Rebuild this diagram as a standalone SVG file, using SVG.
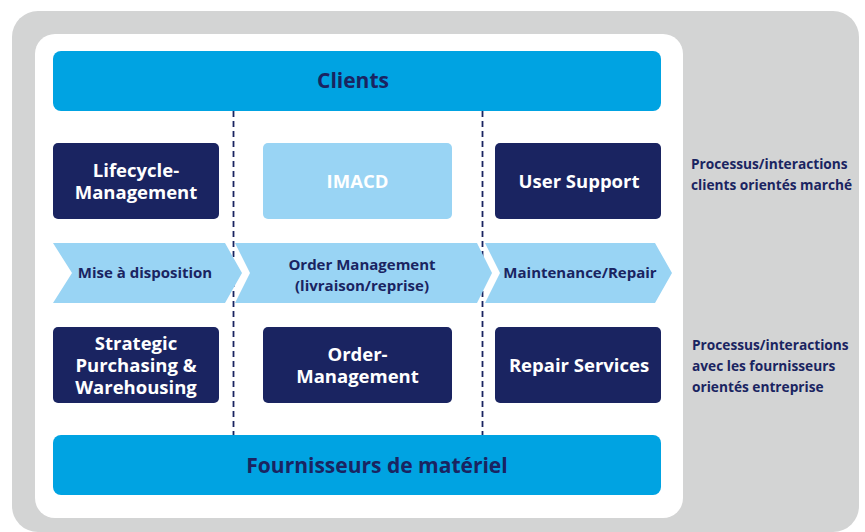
<svg xmlns="http://www.w3.org/2000/svg" width="865" height="532" viewBox="0 0 865 532">
<style>
.t{font-family:"Open Sans","Liberation Sans",sans-serif;font-weight:bold;text-anchor:middle}
.dark{fill:#1a2461}
.bar{fill:#00a3e2}
.light{fill:#99d4f4}
.wt{fill:#ffffff}
.nt{fill:#1a2461}
.dash{stroke:#1a2461;stroke-width:1.8;stroke-dasharray:6,4;fill:none}
</style>
<rect x="12" y="11" width="847" height="521" rx="26" fill="#d3d4d4"/>
<rect x="35" y="34" width="648" height="484" rx="20" fill="#ffffff"/>
<g id="connectors">
<line class="dash" x1="233.5" y1="111" x2="233.5" y2="435"/>
<line class="dash" x1="482.5" y1="111" x2="482.5" y2="435"/>
</g>
<g id="clients"><rect class="bar" x="53" y="51" width="608" height="60" rx="8"/><text class="t nt" x="353" y="88" font-size="21">Clients</text></g>
<g id="fournisseurs"><rect class="bar" x="53" y="435" width="608" height="60" rx="8"/><text class="t nt" x="377" y="473" font-size="21">Fournisseurs de matériel</text></g>
<g id="lifecycle"><rect class="dark" x="53" y="143" width="166" height="76" rx="5"/><text class="t wt" font-size="18.5"><tspan x="136" y="177">Lifecycle-</tspan><tspan x="136" y="199">Management</tspan></text></g>
<g id="imacd"><rect class="light" x="263" y="143" width="189" height="76" rx="5"/><text class="t wt" x="357.5" y="188" font-size="18.5">IMACD</text></g>
<g id="usersupport"><rect class="dark" x="495" y="143" width="166" height="76" rx="5"/><text class="t wt" x="579" y="188" font-size="18.5">User Support</text></g>
<g id="mise"><polygon class="light" points="53,243 225,243 242,273 225,303 53,303 72,273"/><text class="t nt" x="145" y="278" font-size="15">Mise à disposition</text></g>
<g id="order"><polygon class="light" points="235,243 477,243 492,273 477,303 235,303 250,273"/><text class="t nt" font-size="15"><tspan x="362" y="270">Order Management</tspan><tspan x="362" y="291">(livraison/reprise)</tspan></text></g>
<g id="maintenance"><polygon class="light" points="485,243 655,243 672,273 655,303 485,303 500,273"/><text class="t nt" x="580" y="278" font-size="15">Maintenance/Repair</text></g>
<g id="strategic"><rect class="dark" x="53" y="327" width="166" height="76" rx="5"/><text class="t wt" font-size="18.5"><tspan x="136" y="350">Strategic</tspan><tspan x="136" y="372">Purchasing &amp;</tspan><tspan x="136" y="394">Warehousing</tspan></text></g>
<g id="ordermgmt"><rect class="dark" x="263" y="327" width="189" height="76" rx="5"/><text class="t wt" font-size="18.5"><tspan x="357.5" y="361">Order-</tspan><tspan x="357.5" y="383">Management</tspan></text></g>
<g id="repair"><rect class="dark" x="495" y="327" width="166" height="76" rx="5"/><text class="t wt" x="579" y="372" font-size="18.5">Repair Services</text></g>
<g id="label-top"><text class="t nt" font-size="13.7" style="text-anchor:start"><tspan x="691" y="169">Processus/interactions</tspan><tspan x="691" y="190">clients orientés marché</tspan></text></g>
<g id="label-bottom"><text class="t nt" font-size="13.7" style="text-anchor:start"><tspan x="692" y="350">Processus/interactions</tspan><tspan x="692" y="371">avec les fournisseurs</tspan><tspan x="692" y="392">orientés entreprise</tspan></text></g>
</svg>
